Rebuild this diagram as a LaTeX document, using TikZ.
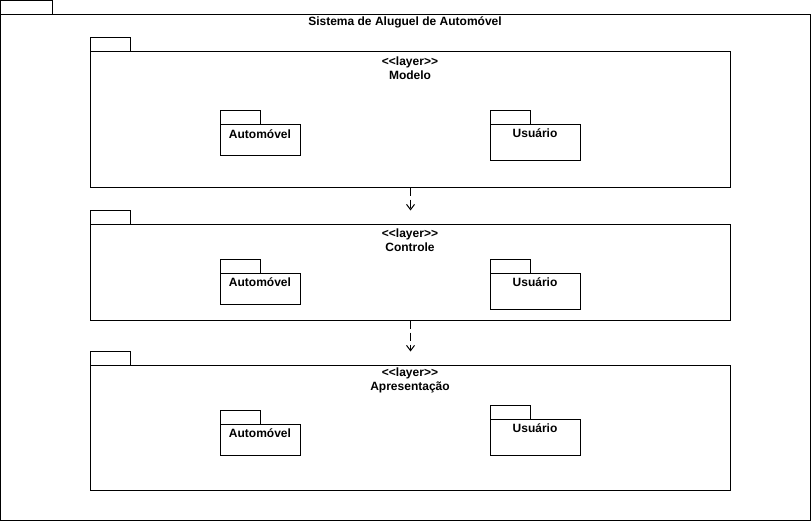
\documentclass[tikz,border=0pt]{standalone}
\usepackage{fontspec}
\setmainfont{Liberation Sans}
\usetikzlibrary{arrows.meta}

\newcommand{\layerstereo}{<\kern0pt<layer>\kern0pt>}

\begin{document}
\begin{tikzpicture}[x=0.75pt, y=-0.75pt, line width=0.75pt]
      \tikzstyle{package} = [
        rectangle,
        draw,
        anchor = north west,
        inner sep = 0pt,
        outer sep = 0pt
      ]

      \tikzstyle{pkgtab} = [
        rectangle,
        draw,
        anchor = south west,
        minimum width = 30pt,
        minimum height = 10.5pt,
        inner sep = 0pt,
        outer sep = 0pt
      ]

      \tikzstyle{pkgtitle} = [
        font = \bfseries\fontsize{9}{10.5}\selectfont,
        align = center,
        inner sep = 0pt
      ]

      \tikzstyle{dependency} = [
        dash pattern = on 6pt off 3pt,
        -{Straight Barb[length=4pt, width=6pt]}
      ]

      \useasboundingbox (0,0) rectangle (811,521);

      % whole system
      \node[package, minimum width=607.5pt, minimum height=379.5pt]
      (system) at (0.5,14.5) {};
      \node[pkgtab, minimum width=39pt] (system tab) at (system.north west) {};
      \node[pkgtitle] (system title) at (405,22) {Sistema de Aluguel de Automóvel};

      % layers
      \node[package, minimum width=480pt, minimum height=102pt]
      (modelo) at (90.5,51.5) {};
      \node[pkgtab] (modelo tab) at (modelo.north west) {};
      \node[pkgtitle] (modelo title) at (410,68) {\layerstereo\\Modelo};

      \node[package, minimum width=480pt, minimum height=72pt]
      (controle) at (90.5,224.5) {};
      \node[pkgtab] (controle tab) at (controle.north west) {};
      \node[pkgtitle] (controle title) at (410,240) {\layerstereo\\Controle};

      \node[package, minimum width=480pt, minimum height=93.75pt]
      (apresentacao) at (90.5,365.5) {};
      \node[pkgtab] (apresentacao tab) at (apresentacao.north west) {};
      \node[pkgtitle] (apresentacao title) at (410,380) {\layerstereo\\Apresentação};

      % packages inside the layers
      \node[package, minimum width=60pt, minimum height=23.25pt]
      (modelo automovel) at (220.5,124.5) {};
      \node[pkgtab] (modelo automovel tab) at (modelo automovel.north west) {};
      \node[pkgtitle] (modelo automovel title) at (260,134) {Automóvel};
      \node[package, minimum width=67.5pt, minimum height=27pt]
      (modelo usuario) at (490.5,124.5) {};
      \node[pkgtab] (modelo usuario tab) at (modelo usuario.north west) {};
      \node[pkgtitle] (modelo usuario title) at (535,133) {Usuário};

      \node[package, minimum width=60pt, minimum height=23.25pt]
      (controle automovel) at (220.5,273.5) {};
      \node[pkgtab] (controle automovel tab) at (controle automovel.north west) {};
      \node[pkgtitle] (controle automovel title) at (260,282) {Automóvel};
      \node[package, minimum width=67.5pt, minimum height=27pt]
      (controle usuario) at (490.5,273.5) {};
      \node[pkgtab] (controle usuario tab) at (controle usuario.north west) {};
      \node[pkgtitle] (controle usuario title) at (535,282) {Usuário};

      \node[package, minimum width=60pt, minimum height=23.25pt]
      (apresentacao automovel) at (220.5,424.5) {};
      \node[pkgtab] (apresentacao automovel tab) at (apresentacao automovel.north west) {};
      \node[pkgtitle] (apresentacao automovel title) at (260,433) {Automóvel};
      \node[package, minimum width=67.5pt, minimum height=27pt]
      (apresentacao usuario) at (490.5,419.5) {};
      \node[pkgtab] (apresentacao usuario tab) at (apresentacao usuario.north west) {};
      \node[pkgtitle] (apresentacao usuario title) at (535,428) {Usuário};

      \draw[dependency] (modelo.south) -- (modelo.south |- controle tab.north);
      \draw[dependency] (controle.south) -- (controle.south |- apresentacao tab.north);
    \end{tikzpicture}
\end{document}
